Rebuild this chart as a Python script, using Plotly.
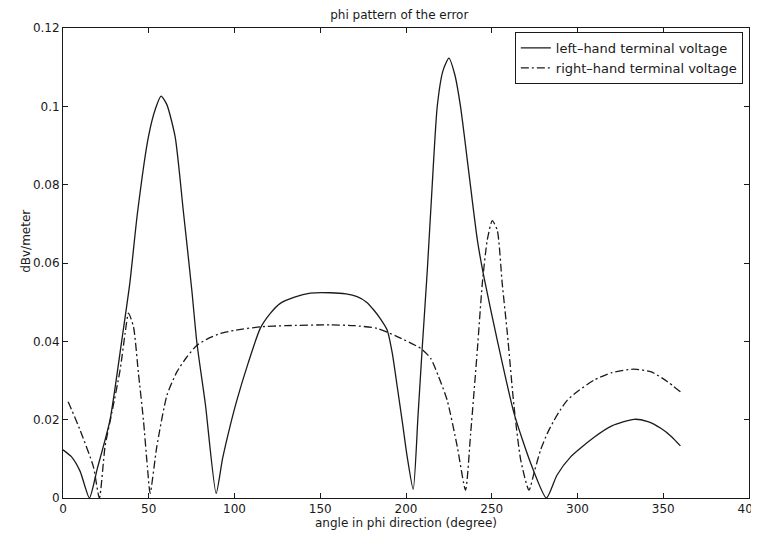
import plotly.graph_objects as go

# left-hand terminal voltage (solid)
left_x = [0, 5, 10, 15.4, 20, 27.4, 34.3, 39, 43.4, 49.8, 54, 57.2, 60.5, 65.4, 70.3,
          75.1, 78.1, 83, 89.3, 93, 97.5, 101.4, 108, 115, 121, 126.7, 135, 144.2, 155.9,
          165, 171.5, 177, 181.2, 185, 189, 192, 194.9, 198, 200.7, 204.2, 207, 209.5,
          212.4, 215.3, 218.2, 221.5, 225, 228.5, 231.8, 236.7, 241.6, 245.4, 253.2, 263,
          272.7, 281.9, 288, 296, 309.7, 320, 333, 341, 348.6, 355, 360]
left_y = [0.0123, 0.0105, 0.0068, 0.0, 0.0075, 0.0199, 0.0403, 0.055, 0.0727, 0.0922,
          0.0995, 0.1026, 0.1005, 0.0922, 0.0727, 0.0531, 0.0395, 0.024, 0.0012, 0.0100,
          0.0185, 0.0250, 0.0345, 0.0433, 0.0472, 0.0497, 0.0513, 0.0523, 0.0524, 0.0521,
          0.0514, 0.0500, 0.048, 0.0458, 0.0429, 0.037, 0.0284, 0.019, 0.0105, 0.0022,
          0.021, 0.0386, 0.058, 0.080, 0.0999, 0.109, 0.1123, 0.108, 0.0999, 0.0829,
          0.0659, 0.0565, 0.0403, 0.0216, 0.0089, 0.0, 0.0058, 0.0105, 0.0155, 0.0184,
          0.0201, 0.0195, 0.0178, 0.0156, 0.0133]

# right-hand terminal voltage (dash-dot)
right_x = [3, 9.9, 17.7, 21.2, 24.5, 28.4, 33.3, 36.2, 38.2, 41.1, 44, 46.9, 49.2, 50.8,
           54.7, 60.6, 66.4, 72.2, 78.1, 85, 91.7, 100, 115, 130, 155.9, 170, 183.2, 194.9,
           208.5, 214.3, 219, 224, 229.9, 234.7, 237.7, 241.6, 244.5, 247.4, 250.3, 253.2,
           256.1, 259.1, 263, 266.9, 271.7, 275, 278.5, 282.4, 286.3, 290, 294.1, 300, 309.7,
           320, 333, 343, 352.5, 360]
right_y = [0.0246, 0.0174, 0.008, 0.0, 0.0131, 0.0216, 0.0327, 0.042, 0.0472, 0.0437,
           0.0318, 0.0199, 0.008, 0.0012, 0.0131, 0.0262, 0.0322, 0.0360, 0.0390, 0.0408,
           0.0420, 0.0428, 0.0437, 0.0440, 0.0442, 0.0440, 0.0433, 0.0412, 0.0382, 0.0357,
           0.031, 0.025, 0.0131, 0.002, 0.0165, 0.0378, 0.0548, 0.0659, 0.0708, 0.0684,
           0.0548, 0.042, 0.0233, 0.0097, 0.002, 0.007, 0.0123, 0.0165, 0.0198, 0.0225,
           0.0250, 0.0272, 0.0301, 0.0320, 0.0329, 0.0322, 0.0297, 0.0271]

x_ticks = [0, 50, 100, 150, 200, 250, 300, 350, 400]
y_ticks = [0, 0.02, 0.04, 0.06, 0.08, 0.1, 0.12]
y_tick_text = ["0", "0.02", "0.04", "0.06", "0.08", "0.1", "0.12"]

FONT = "DejaVu Sans, Verdana, sans-serif"
INK = "#1a1a1a"
FS = 12

fig = go.Figure()
fig.add_trace(go.Scatter(x=left_x, y=left_y, mode="lines",
                         name="left\u2013hand terminal voltage",
                         line=dict(color=INK, width=1.3, dash="solid",
                                   shape="spline", smoothing=0.6)))
fig.add_trace(go.Scatter(x=right_x, y=right_y, mode="lines",
                         name="right\u2013hand terminal voltage",
                         line=dict(color=INK, width=1.3, dash="8px,3px,2px,3px",
                                   shape="spline", smoothing=0.6)))

axis_common = dict(showline=True, linecolor=INK, linewidth=1, mirror="ticks",
                   ticks="inside", ticklen=5, tickcolor=INK, showgrid=False,
                   zeroline=False, automargin=False, ticklabeloverflow="allow",
                   tickfont=dict(family=FONT, size=FS, color=INK))

fig.update_layout(
    width=751, height=530,
    margin=dict(l=55, r=10, t=20, b=40),
    paper_bgcolor="white", plot_bgcolor="white",
    font=dict(family=FONT, size=FS, color=INK),
    title=dict(text="phi pattern of the error", x=0.521, xanchor="center",
               y=0.987, yanchor="middle", automargin=False,
               font=dict(family=FONT, size=FS, color=INK)),
    xaxis=dict(range=[0, 400], tickvals=x_ticks,
               title=dict(text="angle in phi direction (degree)", standoff=2,
                          font=dict(family=FONT, size=FS, color=INK)),
               **axis_common),
    yaxis=dict(range=[0, 0.12], tickvals=y_ticks, ticktext=y_tick_text,
               **axis_common),
    annotations=[dict(text="dBv/meter", textangle=-90, xref="paper", yref="paper",
                      x=-0.054, y=0.547, xanchor="center", yanchor="middle",
                      showarrow=False, font=dict(family=FONT, size=FS, color=INK))],
    legend=dict(x=0.991, y=0.9915, xanchor="right", yanchor="top",
                bgcolor="white", bordercolor=INK, borderwidth=1,
                font=dict(family=FONT, size=13, color=INK),
                tracegroupgap=0, itemwidth=30),
    showlegend=True,
)

fig.write_html("out.html")
